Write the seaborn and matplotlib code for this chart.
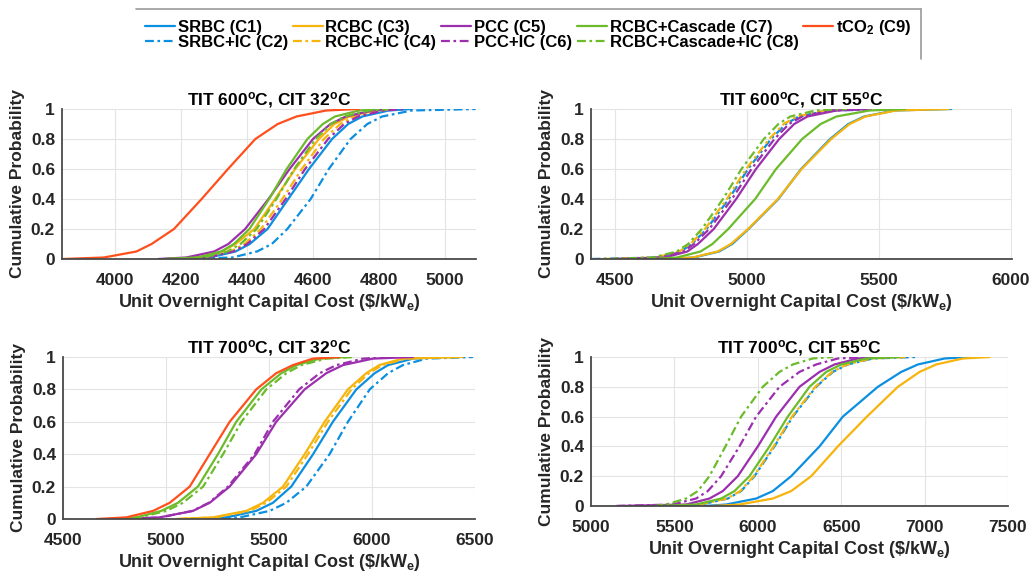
import numpy as np
import pandas as pd
import matplotlib
matplotlib.use("Agg")
import matplotlib.pyplot as plt
import seaborn as sns
from matplotlib.lines import Line2D

# ---------------- data ----------------
# cumulative probability levels at which each curve was read
PROBS = [0, 0.01, 0.05, 0.1, 0.2, 0.4, 0.6, 0.8, 0.9, 0.95, 0.99, 1]

LABELS = ["SRBC (C1)", "SRBC+IC (C2)", "RCBC (C3)", "RCBC+IC (C4)",
          "PCC (C5)", "PCC+IC (C6)", "RCBC+Cascade (C7)",
          "RCBC+Cascade+IC (C8)", r"tCO$_2$ (C9)"]

# TIT 600C, CIT 32C : unit overnight capital cost at each probability level
p600_32 = {
    "C1": [4180, 4285, 4365, 4408, 4462, 4525, 4588, 4658, 4707, 4750, 4830, 4900],
    "C2": [4200, 4355, 4430, 4475, 4522, 4593, 4648, 4714, 4765, 4810, 4900, 5094],
    "C3": [4150, 4245, 4323, 4365, 4422, 4485, 4546, 4618, 4665, 4710, 4790, 4850],
    "C4": [4170, 4270, 4350, 4392, 4442, 4507, 4566, 4633, 4683, 4725, 4800, 4860],
    "C5": [4130, 4215, 4300, 4343, 4394, 4465, 4529, 4600, 4653, 4700, 4780, 4830],
    "C6": [4170, 4280, 4358, 4400, 4452, 4517, 4576, 4646, 4695, 4737, 4815, 4880],
    "C7": [4150, 4250, 4321, 4360, 4407, 4467, 4520, 4583, 4630, 4667, 4740, 4800],
    "C8": [4160, 4270, 4340, 4380, 4429, 4489, 4543, 4608, 4655, 4695, 4770, 4830],
    "C9": [3840, 3965, 4064, 4110, 4178, 4262, 4342, 4425, 4493, 4550, 4640, 4740],
}

# TIT 600C, CIT 55C
p600_55 = {
    "C1": [4700, 4800, 4895, 4945, 5007, 5120, 5206, 5316, 5385, 5445, 5560, 5775],
    "C2": [4412, 4660, 4750, 4792, 4848, 4932, 5005, 5092, 5148, 5198, 5305, 5630],
    "C3": [4690, 4795, 4890, 4940, 5005, 5118, 5208, 5320, 5390, 5450, 5565, 5765],
    "C4": [4450, 4655, 4745, 4787, 4842, 4925, 4998, 5085, 5140, 5190, 5300, 5420],
    "C5": [4520, 4690, 4775, 4815, 4875, 4960, 5035, 5123, 5180, 5230, 5340, 5470],
    "C6": [4500, 4670, 4760, 4800, 4858, 4944, 5018, 5105, 5160, 5210, 5320, 5450],
    "C7": [4640, 4735, 4825, 4870, 4930, 5032, 5111, 5210, 5280, 5340, 5465, 5600],
    "C8": [4480, 4645, 4735, 4778, 4830, 4910, 4980, 5065, 5120, 5165, 5260, 5380],
}

# TIT 700C, CIT 32C
p700_32 = {
    "C1": [5131, 5293, 5438, 5519, 5608, 5714, 5810, 5924, 6013, 6078, 6199, 6345],
    "C2": [5180, 5358, 5503, 5584, 5681, 5794, 5883, 5989, 6078, 6150, 6264, 6490],
    "C3": [5050, 5228, 5390, 5471, 5568, 5673, 5770, 5883, 5972, 6035, 6149, 6440],
    "C4": [5060, 5240, 5405, 5487, 5584, 5689, 5786, 5900, 5985, 6050, 6165, 6400],
    "C5": [4807, 4969, 5131, 5212, 5309, 5438, 5535, 5673, 5778, 5859, 6005, 6200],
    "C6": [4820, 4975, 5128, 5208, 5301, 5430, 5519, 5646, 5746, 5827, 5956, 6100],
    "C7": [4727, 4856, 4977, 5058, 5155, 5252, 5341, 5463, 5560, 5633, 5746, 5875],
    "C8": [4750, 4872, 5001, 5082, 5180, 5277, 5366, 5487, 5584, 5657, 5778, 5916],
    "C9": [4662, 4807, 4937, 5018, 5115, 5212, 5309, 5438, 5535, 5616, 5713, 5843],
}

# TIT 700C, CIT 55C
p700_55 = {
    "C1": [5680, 5810, 5990, 6090, 6200, 6370, 6510, 6720, 6860, 6960, 7120, 7260],
    "C2": [5560, 5660, 5820, 5900, 5980, 6100, 6210, 6350, 6450, 6540, 6690, 6950],
    "C3": [5730, 5890, 6090, 6200, 6320, 6480, 6654, 6840, 6970, 7070, 7230, 7390],
    "C4": [5540, 5650, 5815, 5895, 5975, 6095, 6205, 6345, 6445, 6535, 6680, 6900],
    "C5": [5160, 5570, 5710, 5790, 5880, 6000, 6110, 6250, 6370, 6460, 6600, 6780],
    "C6": [5150, 5490, 5630, 5700, 5780, 5890, 5990, 6130, 6250, 6350, 6480, 6650],
    "C7": [5400, 5630, 5780, 5860, 5950, 6070, 6180, 6310, 6410, 6500, 6650, 6850],
    "C8": [5380, 5450, 5570, 5640, 5710, 5806, 5900, 6030, 6130, 6210, 6330, 6450],
}

TITLES = [r"TIT 600$^{\mathrm{o}}$C, CIT 32$^{\mathrm{o}}$C",
          r"TIT 600$^{\mathrm{o}}$C, CIT 55$^{\mathrm{o}}$C",
          r"TIT 700$^{\mathrm{o}}$C, CIT 32$^{\mathrm{o}}$C",
          r"TIT 700$^{\mathrm{o}}$C, CIT 55$^{\mathrm{o}}$C"]
XTICKS = [[4000, 4200, 4400, 4600, 4800, 5000],
          [4500, 5000, 5500, 6000],
          [4500, 5000, 5500, 6000, 6500],
          [5000, 5500, 6000, 6500, 7000, 7500]]
XLIMS = [(3838, 5095), (4410, 6005), (4500, 6500), (5000, 7500)]
YTICKS = [0, 0.2, 0.4, 0.6, 0.8, 1]
YTICKLABELS = ["0", "0.2", "0.4", "0.6", "0.8", "1"]

# ---------------- style ----------------
sns.set_theme(style="white")
plt.rcParams["font.family"] = ["Liberation Sans", "DejaVu Sans"]
plt.rcParams["font.weight"] = "bold"
plt.rcParams["mathtext.fontset"] = "custom"
plt.rcParams["mathtext.rm"] = "Liberation Sans:bold"
plt.rcParams["mathtext.it"] = "Liberation Sans:bold"
plt.rcParams["mathtext.bf"] = "Liberation Sans:bold"

TXT = "#262626"
BLUE, YEL, PUR, GRN, ORG = "#0b8fe0", "#f6b40c", "#9b2fae", "#6cbb2a", "#ff4f1c"
COLORS = {"C1": BLUE, "C2": BLUE, "C3": YEL, "C4": YEL, "C5": PUR, "C6": PUR,
          "C7": GRN, "C8": GRN, "C9": ORG}
DASHDOT = (0, (4, 1.6, 1.2, 1.6))
STYLES = {"C1": "-", "C2": DASHDOT, "C3": "-", "C4": DASHDOT, "C5": "-",
          "C6": DASHDOT, "C7": "-", "C8": DASHDOT, "C9": "-"}
KEYS = ["C1", "C2", "C3", "C4", "C5", "C6", "C7", "C8", "C9"]

W, H = 1035, 576
fig = plt.figure(figsize=(W / 100, H / 100), dpi=100)

def rect(l, t, r, b):
    return [l / W, 1 - b / H, (r - l) / W, (b - t) / H]

RECTS = [rect(62, 109, 476, 259), rect(591, 109, 1012, 259),
         rect(63, 357, 475, 519), rect(591, 357, 1008, 506)]
PANELS = [p600_32, p600_55, p700_32, p700_55]

FS = 12.5
for i, (panel, r) in enumerate(zip(PANELS, RECTS)):
    ax = fig.add_axes(r)
    for k in KEYS:
        if k not in panel:
            continue
        df = pd.DataFrame({"cost": panel[k], "prob": PROBS})
        sns.lineplot(data=df, x="cost", y="prob", ax=ax, color=COLORS[k],
                     linestyle=STYLES[k], linewidth=1.6, estimator=None,
                     sort=False, legend=False)
    ax.set_xlim(*XLIMS[i])
    ax.set_ylim(0, 1)
    ax.set_xticks(XTICKS[i])
    ax.set_xticklabels([str(t) for t in XTICKS[i]], fontsize=FS, fontweight="bold", color=TXT)
    ax.set_yticks(YTICKS)
    ax.set_yticklabels(YTICKLABELS, fontsize=FS, fontweight="bold", color=TXT)
    ax.tick_params(axis="x", length=0, pad=10)
    ax.tick_params(axis="y", length=0, pad=5)
    ax.grid(True, color="#e4e4e4", linewidth=0.8)
    ax.set_axisbelow(True)
    for s in ["top", "right"]:
        ax.spines[s].set_visible(False)
    for s in ["left", "bottom"]:
        ax.spines[s].set_color("#4a4a4a")
        ax.spines[s].set_linewidth(1.3)
    ax.set_title(TITLES[i], fontsize=FS, fontweight="bold", color="black", pad=3)
    ax.set_xlabel(r"Unit Overnight Capital Cost (\$/kW$_{\mathrm{e}}$)",
                  fontsize=13, fontweight="bold", color=TXT, labelpad=3)
    ax.set_ylabel("Cumulative Probability", fontsize=FS, fontweight="bold",
                  color=TXT, labelpad=4)

handles = [Line2D([0], [0], color=COLORS[k], linestyle=STYLES[k], linewidth=1.6) for k in KEYS]
leg = fig.legend(handles, LABELS, ncol=5, loc="upper left",
                 bbox_to_anchor=(136 / W, 1 - 9 / H), frameon=False,
                 prop={"family": "Liberation Sans", "weight": "bold", "size": 12},
                 handlelength=1.8, handletextpad=0.15, columnspacing=0.3,
                 labelspacing=0.0, borderpad=0.55, borderaxespad=0)
for t in leg.get_texts():
    t.set_color("black")

fig.canvas.draw()
bb = leg.get_window_extent().transformed(fig.transFigure.inverted())
fig.add_artist(Line2D([bb.x0, bb.x1], [bb.y1, bb.y1], transform=fig.transFigure,
                      color="#9a9a9a", linewidth=1.2))
fig.add_artist(Line2D([bb.x1, bb.x1], [bb.y0, bb.y1], transform=fig.transFigure,
                      color="#9a9a9a", linewidth=1.2))

fig.savefig("out.png", dpi=100)
